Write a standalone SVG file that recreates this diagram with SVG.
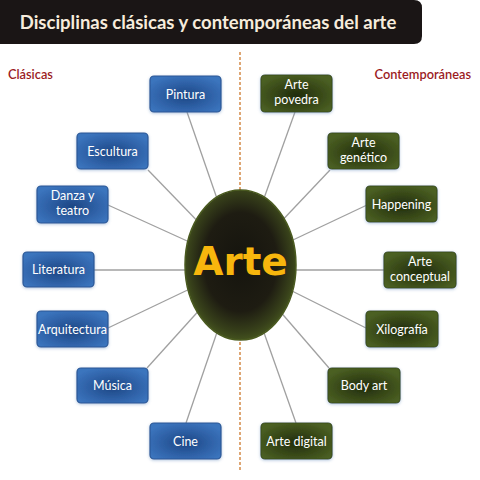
<svg xmlns="http://www.w3.org/2000/svg" width="480" height="480" viewBox="0 0 480 480">
<style>
.lbl{font-family:Lato,"Open Sans",sans-serif;font-size:12.5px;fill:#ffffff;text-anchor:middle}
.blue{fill:url(#gb);stroke:#2a5796;stroke-width:1.2;filter:url(#sh)}
.green{fill:url(#gg);stroke:#3d4f1c;stroke-width:1.2;filter:url(#sh)}
.con line{stroke:#a0a0a0;stroke-width:1.3}
.hd{font-family:Lato,"Open Sans",sans-serif;font-size:12.8px;font-weight:600;fill:#9b1b1e}
</style>
<defs>
<radialGradient id="gb" cx="50%" cy="55%" r="60%">
<stop offset="0" stop-color="#1d4684"/>
<stop offset="0.6" stop-color="#2f62a8"/>
<stop offset="1" stop-color="#3b74bd"/>
</radialGradient>
<radialGradient id="gg" cx="50%" cy="55%" r="60%">
<stop offset="0" stop-color="#202c0c"/>
<stop offset="0.6" stop-color="#3a4b19"/>
<stop offset="1" stop-color="#4b6023"/>
</radialGradient>
<radialGradient id="ge" cx="50%" cy="48%" r="55%">
<stop offset="0" stop-color="#15140e"/>
<stop offset="0.6" stop-color="#1e1c12"/>
<stop offset="0.85" stop-color="#37401a"/>
<stop offset="1" stop-color="#4a5c20"/>
</radialGradient>
<filter id="sh" x="-20%" y="-20%" width="140%" height="140%">
<feGaussianBlur in="SourceAlpha" stdDeviation="1.5"/>
<feOffset dx="0" dy="0.5" result="b"/>
<feFlood flood-color="#6a8fc0" flood-opacity="0.5"/>
<feComposite in2="b" operator="in"/>
<feMerge><feMergeNode/><feMergeNode in="SourceGraphic"/></feMerge>
</filter>
</defs>
<rect width="480" height="480" fill="#ffffff"/>
<path d="M0 0 H414 Q422 0 422 8 V36 Q422 44 414 44 H0 Z" fill="#1a1515"/>
<text x="208" y="29" font-family="Lato,'Open Sans',sans-serif" font-size="18.5" font-weight="bold" fill="#f7ecdc" text-anchor="middle">Disciplinas clásicas y contemporáneas del arte</text>
<line x1="240" y1="52" x2="240" y2="472" stroke="#d0823a" stroke-width="1.4" stroke-dasharray="3,2"/>
<text class="hd" x="8" y="79">Clásicas</text>
<text class="hd" x="471" y="79" text-anchor="end">Contemporáneas</text>
<g class="con">
<line x1="187" y1="112" x2="240" y2="265"/>
<line x1="148" y1="170" x2="240" y2="265"/>
<line x1="108" y1="205" x2="240" y2="265"/>
<line x1="94" y1="270" x2="240" y2="270"/>
<line x1="108" y1="328" x2="240" y2="265"/>
<line x1="147" y1="368" x2="240" y2="265"/>
<line x1="186" y1="423" x2="240" y2="265"/>
<line x1="295" y1="112" x2="240" y2="265"/>
<line x1="330" y1="170" x2="240" y2="265"/>
<line x1="367" y1="205" x2="240" y2="265"/>
<line x1="384" y1="270" x2="240" y2="270"/>
<line x1="366" y1="328" x2="240" y2="265"/>
<line x1="329" y1="368" x2="240" y2="265"/>
<line x1="296" y1="423" x2="240" y2="265"/>
</g>
<g id="arte">
<ellipse cx="240.5" cy="265" rx="55.5" ry="75" fill="url(#ge)" stroke="#4a5a20" stroke-width="1.5"/>
<text x="240.5" y="275" font-family="'DejaVu Sans',Verdana,sans-serif" font-size="39" font-weight="bold" fill="#f7b60d" text-anchor="middle">Arte</text>
</g>
<g id="pintura"><rect class="blue" x="150" y="76" width="71" height="36" rx="4"/><text class="lbl" x="185.5" y="98.5">Pintura</text></g>
<g id="escultura"><rect class="blue" x="77" y="133" width="71" height="36" rx="4"/><text class="lbl" x="112.5" y="155.5">Escultura</text></g>
<g id="danza"><rect class="blue" x="37" y="186" width="71" height="37" rx="4"/><text class="lbl" x="72.5" y="200">Danza y</text><text class="lbl" x="72.5" y="215">teatro</text></g>
<g id="literatura"><rect class="blue" x="23" y="252" width="71" height="35" rx="4"/><text class="lbl" x="58.5" y="274">Literatura</text></g>
<g id="arquitectura"><rect class="blue" x="37" y="311" width="71" height="36" rx="4"/><text class="lbl" x="72.5" y="333.5">Arquitectura</text></g>
<g id="musica"><rect class="blue" x="77" y="368" width="71" height="35" rx="4"/><text class="lbl" x="112.5" y="390">Música</text></g>
<g id="cine"><rect class="blue" x="150" y="423" width="71" height="36" rx="4"/><text class="lbl" x="185.5" y="445.5">Cine</text></g>
<g id="povedra"><rect class="green" x="261" y="75" width="71" height="37" rx="4"/><text class="lbl" x="296.5" y="89">Arte</text><text class="lbl" x="296.5" y="104">povedra</text></g>
<g id="genetico"><rect class="green" x="328" y="133" width="71" height="36" rx="4"/><text class="lbl" x="363.5" y="147">Arte</text><text class="lbl" x="363.5" y="162">genético</text></g>
<g id="happening"><rect class="green" x="366" y="186" width="71" height="36" rx="4"/><text class="lbl" x="401.5" y="208.5">Happening</text></g>
<g id="conceptual"><rect class="green" x="384" y="252" width="72" height="36" rx="4"/><text class="lbl" x="420" y="266">Arte</text><text class="lbl" x="420" y="281">conceptual</text></g>
<g id="xilografia"><rect class="green" x="366" y="311" width="72" height="36" rx="4"/><text class="lbl" x="402" y="333.5">Xilografía</text></g>
<g id="bodyart"><rect class="green" x="328" y="368" width="72" height="35" rx="4"/><text class="lbl" x="364" y="390">Body art</text></g>
<g id="digital"><rect class="green" x="261" y="423" width="71" height="36" rx="4"/><text class="lbl" x="296.5" y="445.5">Arte digital</text></g>
</svg>
